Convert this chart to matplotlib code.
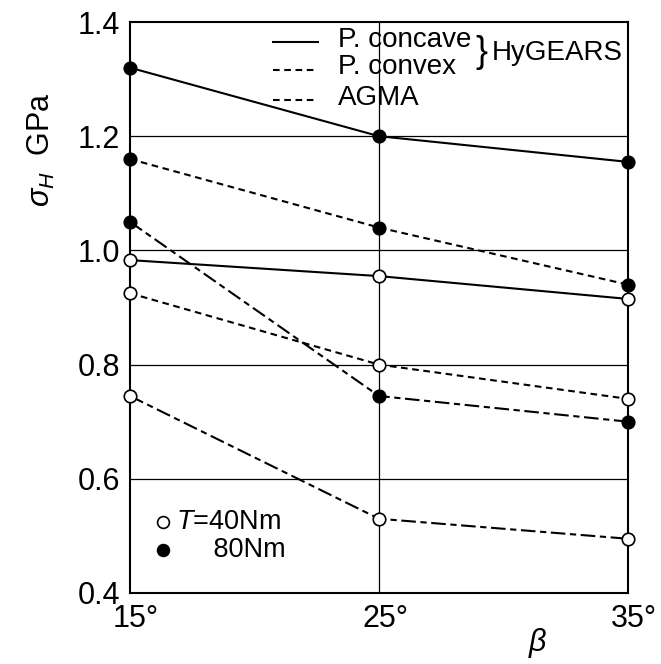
import matplotlib
matplotlib.use("Agg")
import matplotlib.pyplot as plt
from matplotlib.transforms import ScaledTranslation

beta = [15, 25, 35]
xtick_labels = ["15°", "25°", "35°"]
yticks = [0.4, 0.6, 0.8, 1.0, 1.2, 1.4]

concave_80 = [1.32, 1.20, 1.155]
convex_80 = [1.16, 1.04, 0.94]
agma_80 = [1.05, 0.745, 0.70]
concave_40 = [0.983, 0.955, 0.915]
convex_40 = [0.925, 0.80, 0.74]
agma_40 = [0.745, 0.53, 0.495]

plt.rcParams['font.family'] = ['Liberation Sans', 'DejaVu Sans']
plt.rcParams['mathtext.fontset'] = 'custom'
plt.rcParams['mathtext.rm'] = 'Liberation Sans'
plt.rcParams['mathtext.it'] = 'Liberation Sans:italic'

W, H = 661, 664
AX_L, AX_R, AX_T, AX_B = 130, 628, 22, 593

fig = plt.figure(figsize=(W / 100, H / 100), dpi=100)
ax = fig.add_axes([AX_L / W, 1 - AX_B / H, (AX_R - AX_L) / W, (AX_B - AX_T) / H])

ax.set_xlim(15, 35)
ax.set_ylim(0.4, 1.4)

def px2data(xp, yp):
    return (15 + (xp - AX_L) / (AX_R - AX_L) * 20,
            1.4 - (yp - AX_T) / (AX_B - AX_T) * 1.0)

for y in [0.6, 0.8, 1.0, 1.2]:
    ax.axhline(y, color='black', lw=0.9, zorder=1)
ax.axvline(25, color='black', lw=0.9, zorder=1)

dashed = (0, (3.2, 2.2))
agma = (0, (7, 2.2, 3.0, 2.2))
lw = 1.5
ms = 9
for vals, ls, filled in [
    (concave_80, '-', True),
    (convex_80, dashed, True),
    (agma_80, agma, True),
    (concave_40, '-', False),
    (convex_40, dashed, False),
    (agma_40, agma, False),
]:
    ax.plot(beta, vals, linestyle=ls, color='black', lw=lw, zorder=3, clip_on=False)
    ax.plot(beta, vals, linestyle='none', marker='o', ms=ms,
            mfc='black' if filled else 'white', mec='black', mew=1.2,
            zorder=4, clip_on=False)

for s in ax.spines.values():
    s.set_linewidth(1.5)

ax.set_xticks(beta)
ax.set_xticklabels(xtick_labels, fontsize=22)
ax.set_yticks(yticks)
ax.set_yticklabels([f"{v:.1f}" for v in yticks], fontsize=22)
ax.tick_params(axis='both', direction='in', length=0)
ax.tick_params(axis='y', pad=7)
ax.tick_params(axis='x', pad=8)
off = ScaledTranslation(6 / 100, 0, fig.dpi_scale_trans)
for lab in ax.get_xticklabels():
    lab.set_transform(lab.get_transform() + off)

fig.text(41 / W, 1 - 150 / H, r"$\sigma_H$  GPa", fontsize=22, rotation=90,
         ha='center', va='center')
fig.text(538 / W, 1 - 643 / H, r"$\beta$", fontsize=22, ha='center', va='center',
         family='DejaVu Serif', style='italic')

# line legend
for (ypx, ls, lab, typx) in [(42, '-', "P. concave", 40), (70, dashed, "P. convex", 67),
                             (100, dashed, "AGMA", 98)]:
    x0, yd = px2data(273, ypx)
    x1, _ = px2data(318, ypx)
    ax.plot([x0, x1], [yd, yd], linestyle=ls, color='black', lw=lw, clip_on=False, zorder=5)
    tx, ty = px2data(338, typx)
    ax.text(tx, ty, lab, fontsize=20, va='center', ha='left')
bx, by = px2data(475, 53)
ax.text(bx, by, "}", fontsize=26, va='center', ha='left', fontweight='light')
hx, hy = px2data(492, 53)
ax.text(hx, hy, "HyGEARS", fontsize=20, va='center', ha='left')

# marker legend
for ypx, filled, lab in [(522, False, r"$T$=40Nm"), (550, True, "     80Nm")]:
    xm, yd = px2data(163, ypx)
    ax.plot([xm], [yd], marker='o', ms=8.5, mfc='black' if filled else 'white',
            mec='black', mew=1.2, linestyle='none', zorder=5)
    tx, _ = px2data(176, ypx)
    ax.text(tx, yd, lab, fontsize=19.5, va='center', ha='left')

fig.savefig("out.png", dpi=100, facecolor='white')
